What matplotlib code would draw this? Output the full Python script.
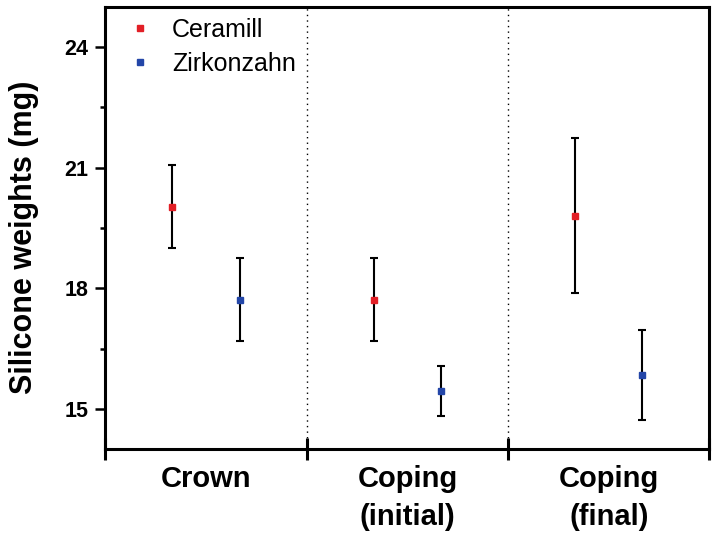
import matplotlib
matplotlib.use('Agg')
import matplotlib.pyplot as plt

# group names on the x axis
groups = ['Crown', 'Coping\n(initial)', 'Coping\n(final)']

# silicone weights (mg), mean and error
ceramill_mean = [20.03, 17.72, 19.80]
ceramill_err = [1.03, 1.04, 1.93]
zirkon_mean = [17.72, 15.44, 15.84]
zirkon_err = [1.04, 0.62, 1.11]

plt.rcParams['font.family'] = ['Liberation Sans', 'DejaVu Sans']

red = '#e21f26'
blue = '#2346a8'

fig = plt.figure(figsize=(7.15, 5.33), dpi=100)
ax = fig.add_axes([0.1473, 0.1576, 0.8450, 0.8293])

n = len(groups)
x_c = [i + 1 / 3 for i in range(n)]
x_z = [i + 2 / 3 for i in range(n)]

ax.errorbar(x_c, ceramill_mean, yerr=ceramill_err, fmt='none', ecolor='black',
            elinewidth=1.5, capsize=3, capthick=1.5, zorder=2)
ax.errorbar(x_z, zirkon_mean, yerr=zirkon_err, fmt='none', ecolor='black',
            elinewidth=1.5, capsize=3, capthick=1.5, zorder=2)
h1, = ax.plot(x_c, ceramill_mean, 's', color=red, markersize=4.5, linestyle='none',
              label='Ceramill', zorder=3)
h2, = ax.plot(x_z, zirkon_mean, 's', color=blue, markersize=4.5, linestyle='none',
              label='Zirkonzahn', zorder=3)

# dotted separators between the groups
for b in range(1, n):
    ax.axvline(b, color='black', linestyle=(0, (1, 3)), linewidth=1.0, zorder=1)

ax.set_xlim(0, n)
ax.set_ylim(14, 25)

ax.set_yticks([15, 18, 21, 24])
ax.set_yticks([16.5, 19.5, 22.5], minor=True)
ax.set_xticks(range(n + 1))
ax.set_xticklabels([])
ax.set_xticks([i + 0.5 for i in range(n)], minor=True)
ax.set_xticklabels(groups, minor=True, fontsize=21, fontweight='bold',
                   linespacing=1.45)

ax.tick_params(axis='y', which='major', direction='out', length=7, width=1.8,
               labelsize=15.5, pad=5)
ax.tick_params(axis='y', which='minor', direction='out', length=3.5, width=1.8)
ax.tick_params(axis='x', which='major', direction='inout', length=16, width=2.2)
ax.tick_params(axis='x', which='minor', length=0, pad=11.5)
for lab in ax.get_yticklabels():
    lab.set_fontweight('bold')

for s in ax.spines.values():
    s.set_linewidth(2.2)

ax.set_ylabel('Silicone weights (mg)', fontsize=22, fontweight='bold')
ax.yaxis.set_label_coords(-0.11, 0.479)

ax.legend(handles=[h1, h2], loc='upper left', bbox_to_anchor=(0.0367, 0.975),
          frameon=False, fontsize=18, handlelength=1.0, handletextpad=0.78,
          labelspacing=0.38, borderpad=0, borderaxespad=0, markerscale=1.0)

fig.savefig('out.png', dpi=100)
